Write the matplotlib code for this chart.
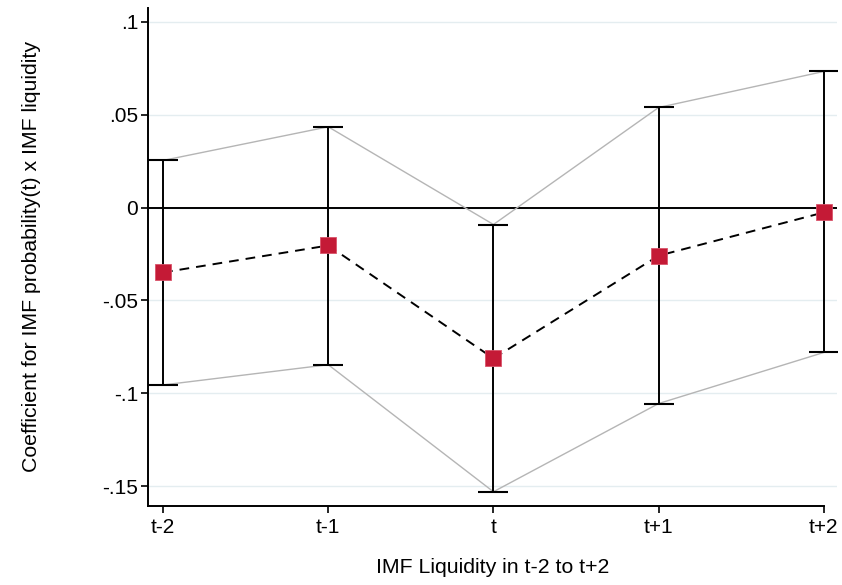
import matplotlib.pyplot as plt

plt.rcParams["font.family"] = ["Liberation Sans", "DejaVu Sans"]

# data
periods = ["t-2", "t-1", "t", "t+1", "t+2"]
coef = [-0.0349, -0.0204, -0.0812, -0.0259, -0.0026]
ci_upper = [0.0254, 0.0435, -0.0091, 0.0539, 0.0733]
ci_lower = [-0.0955, -0.0846, -0.1530, -0.1055, -0.0780]
yticks = [-0.15, -0.1, -0.05, 0, 0.05, 0.1]
ytick_labels = ["-.15", "-.1", "-.05", "0", ".05", ".1"]

x = list(range(len(periods)))

fig = plt.figure(figsize=(8.42, 5.85), dpi=100)
ax = fig.add_axes([0.1758, 0.1356, 0.8183, 0.8508])

# light horizontal grid
for v in yticks:
    ax.axhline(v, color="#e4edf0", lw=1.0, zorder=0)
ax.axhline(0, color="black", lw=1.4, zorder=1)

# CI envelope lines
ax.plot(x, ci_upper, color="#b5b5b5", lw=1.0, zorder=2)
ax.plot(x, ci_lower, color="#b5b5b5", lw=1.0, zorder=2)

# error bars
yerr = [[c - l for c, l in zip(coef, ci_lower)],
        [u - c for c, u in zip(coef, ci_upper)]]
ax.errorbar(x, coef, yerr=yerr, fmt="none", ecolor="black", elinewidth=1.4,
            capsize=10.5, capthick=1.5, zorder=3)

# point estimates
ax.plot(x, coef, color="black", lw=1.4, dashes=(5, 3.6), zorder=4)
ax.plot(x, coef, linestyle="none", marker="s", markersize=11,
        markerfacecolor="#c41a36", markeredgecolor="#d9536a",
        markeredgewidth=0.6, zorder=5)

ax.set_xlim(-0.091, 4.08)
ax.set_ylim(-0.1605, 0.1075)
ax.set_xticks(x)
ax.set_xticklabels(periods)
ax.set_yticks(yticks)
ax.set_yticklabels(ytick_labels)
ax.tick_params(axis="both", labelsize=15, length=5, width=1.2, direction="out",
               color="black")
ax.tick_params(axis="y", pad=2)
ax.tick_params(axis="x", pad=4)

for s in ["top", "right"]:
    ax.spines[s].set_visible(False)
for s in ["left", "bottom"]:
    ax.spines[s].set_linewidth(1.4)
ax.spines["bottom"].set_bounds(-0.091, 4)

ax.set_xlabel("IMF Liquidity in t-2 to t+2", fontsize=15.3, labelpad=15)
ax.set_ylabel("Coefficient for IMF probability(t) x IMF liquidity",
              fontsize=15.3, labelpad=44)

fig.savefig("out.png", dpi=100)
